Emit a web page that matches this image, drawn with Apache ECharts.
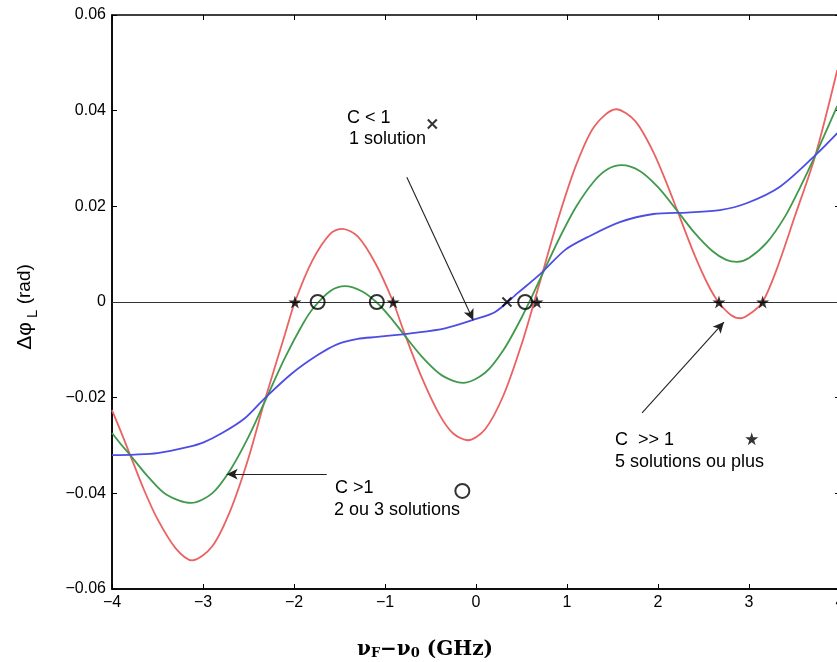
<!DOCTYPE html>
<html><head><meta charset="utf-8">
<script src="https://cdn.jsdelivr.net/npm/echarts@6/dist/echarts.min.js"></script>
<style>html,body{margin:0;padding:0;background:#fff}#c{width:837px;height:662px}</style>
</head><body><div id="c"></div>
<script>
// ---- data ----
const xTicks = [-4, -3, -2, -1, 0, 1, 2, 3, 4];
const yTicks = [-0.06, -0.04, -0.02, 0, 0.02, 0.04, 0.06];

const redPts = [[-4.0,-0.0226],[-3.9,-0.0272],[-3.8,-0.0320],[-3.65,-0.0392],[-3.5,-0.0454],[-3.3,-0.0515],[-3.12,-0.0540],[-2.9,-0.0511],[-2.7,-0.0436],[-2.5,-0.0326],[-2.32,-0.0205],[-2.1,-0.0068],[-1.99,0.0],[-1.8,0.0086],[-1.6,0.0143],[-1.47,0.0153],[-1.3,0.0137],[-1.1,0.0079],[-0.91,0.0],[-0.8,-0.0058],[-0.6,-0.0156],[-0.4,-0.0236],[-0.25,-0.0275],[-0.09,-0.0289],[0.1,-0.0266],[0.3,-0.0196],[0.5,-0.0089],[0.68,0.0027],[0.9,0.0172],[1.1,0.0286],[1.3,0.0367],[1.54,0.0403],[1.75,0.0378],[1.95,0.0313],[2.1,0.0246],[2.21,0.0192],[2.4,0.0099],[2.55,0.0036],[2.66,0.0001],[2.8,-0.0027],[2.91,-0.0034],[3.03,-0.0022],[3.15,0.0],[3.3,0.0066],[3.5,0.0177],[3.73,0.0307],[3.97,0.0485]];

const greenPts = [[-4.0,-0.0274],[-3.9,-0.0298],[-3.8,-0.0320],[-3.6,-0.0366],[-3.4,-0.0403],[-3.13,-0.0420],[-2.9,-0.0400],[-2.7,-0.0351],[-2.5,-0.0282],[-2.32,-0.0208],[-2.1,-0.0117],[-1.9,-0.0045],[-1.78,-0.0011],[-1.6,0.0023],[-1.44,0.0033],[-1.25,0.0022],[-1.09,-0.0001],[-0.95,-0.0030],[-0.8,-0.0066],[-0.6,-0.0113],[-0.4,-0.0150],[-0.25,-0.0165],[-0.14,-0.0169],[0.1,-0.0148],[0.3,-0.0101],[0.5,-0.0033],[0.7,0.0046],[0.9,0.0127],[1.1,0.0199],[1.3,0.0253],[1.45,0.0278],[1.6,0.0286],[1.8,0.0274],[2.0,0.0240],[2.21,0.0191],[2.4,0.0145],[2.6,0.0106],[2.75,0.0088],[2.87,0.0084],[3.0,0.0092],[3.2,0.0125],[3.4,0.0180],[3.55,0.0235],[3.73,0.0307],[3.97,0.0410]];

const bluePts = [[-4.0,-0.0320],[-3.75,-0.0319],[-3.5,-0.0316],[-3.16,-0.0303],[-3.0,-0.0294],[-2.79,-0.0274],[-2.54,-0.0243],[-2.32,-0.0201],[-2.02,-0.0149],[-1.74,-0.0111],[-1.52,-0.0088],[-1.3,-0.0077],[-1.08,-0.0073],[-0.7,-0.0065],[-0.34,-0.0055],[-0.01,-0.0036],[0.21,-0.0021],[0.46,0.0019],[0.72,0.0061],[0.98,0.0109],[1.22,0.0135],[1.58,0.0167],[1.95,0.0184],[2.32,0.0187],[2.68,0.0192],[2.98,0.0207],[3.34,0.0241],[3.73,0.0307],[3.97,0.0353]];

const starPts = [[-1.99,0],[-0.91,0],[0.67,0],[2.67,0],[3.15,0],[3.03,-0.0286]];
const circlePts = [[-1.74,0],[-1.09,0],[0.54,0],[-0.15,-0.0395]];
const crossPts = [[0.34,0],[-0.48,0.0372]];

const arrowSegs = [
  [[-0.76, 0.0261], [-0.03, -0.0038]],
  [[-1.64, -0.0360], [-2.74, -0.0360]],
  [[1.825, -0.0232], [2.725, -0.0042]]
];

const notes = [
  {text: 'C < 1', x: 347, y: 118},
  {text: '1 solution', x: 349, y: 139},
  {text: 'C >1', x: 335, y: 488},
  {text: '2 ou 3 solutions', x: 334, y: 510},
  {text: 'C  >> 1', x: 615, y: 440},
  {text: '5 solutions ou plus', x: 615, y: 462}
];

// ---- chart ----
const chart = echarts.init(document.getElementById('c'), null, {renderer: 'canvas'});
const minus = s => String(s).replace('-', '\u2212');
const yFmt = v => (Math.abs(v) < 1e-9 ? '0' : minus(v.toFixed(2)));
const tickFont = {fontFamily: 'Liberation Sans', fontSize: 16, color: '#000'};
const starPath = 'path://M50,0 L61,35 L98,35 L68,57 L79,91 L50,70 L21,91 L32,57 L2,35 L39,35 Z';

const option = {
  animation: false,
  backgroundColor: '#fff',
  grid: {left: 112, right: -3, top: 15, bottom: 73, show: true, borderColor: '#000', borderWidth: 1.5,
         backgroundColor: 'transparent', containLabel: false, outerBoundsMode: 'none'},
  xAxis: [
    {type: 'value', min: xTicks[0], max: xTicks[xTicks.length-1], interval: 1,
     axisLine: {onZero: false, lineStyle: {color: '#000', width: 1.5}},
     axisTick: {inside: true, length: 5, lineStyle: {color: '#000', width: 1}},
     axisLabel: Object.assign({margin: 6, formatter: v => minus(v)}, tickFont),
     splitLine: {show: false}},
    {type: 'value', position: 'top', min: xTicks[0], max: xTicks[xTicks.length-1], interval: 1,
     axisLine: {show: false, onZero: false}, axisTick: {inside: true, length: 5, lineStyle: {color: '#000'}},
     axisLabel: {show: false}, splitLine: {show: false}}
  ],
  yAxis: [
    {type: 'value', min: yTicks[0], max: yTicks[yTicks.length-1], interval: 0.02,
     axisLine: {show: true, onZero: false, lineStyle: {color: '#000', width: 1.5}},
     axisTick: {show: true, inside: true, length: 5, lineStyle: {color: '#000', width: 1}},
     axisLabel: Object.assign({margin: 6, formatter: yFmt}, tickFont),
     splitLine: {show: false}},
    {type: 'value', position: 'right', min: yTicks[0], max: yTicks[yTicks.length-1], interval: 0.02,
     axisLine: {show: false, onZero: false}, axisTick: {show: true, inside: true, length: 5, lineStyle: {color: '#000'}},
     axisLabel: {show: false}, splitLine: {show: false}}
  ],
  series: [
    {type: 'line', data: [], silent: true,
     markLine: {silent: true, symbol: 'none', label: {show: false},
       lineStyle: {color: '#333', width: 1, type: 'solid'},
       data: [{yAxis: 0}]}},
    {type: 'line', data: redPts, smooth: 0.3, showSymbol: false, lineStyle: {color: '#ea6262', width: 1.8}, z: 3},
    {type: 'line', data: greenPts, smooth: 0.3, showSymbol: false, lineStyle: {color: '#3f9a4c', width: 1.8}, z: 3},
    {type: 'line', data: bluePts, smooth: 0.3, showSymbol: false, lineStyle: {color: '#4d4de4', width: 1.8}, z: 3},
    {type: 'line', data: [], silent: true,
     markLine: {silent: true, symbol: ['none', 'arrow'], symbolSize: [8, 11], label: {show: false},
       lineStyle: {color: '#222', width: 1.1, type: 'solid'},
       data: arrowSegs.map(s => [{coord: s[0]}, {coord: s[1]}])}, z: 5},
    {type: 'scatter', data: starPts, symbol: starPath, symbolSize: 13, itemStyle: {color: '#000'}, z: 6},
    {type: 'scatter', data: circlePts, symbol: 'circle', symbolSize: 14,
     itemStyle: {color: 'rgba(0,0,0,0)', borderColor: '#000', borderWidth: 2}, z: 6},
    {type: 'scatter', data: crossPts, symbol: 'path://M0,0L10,10M10,0L0,10', symbolSize: 9,
     itemStyle: {color: 'rgba(0,0,0,0)', borderColor: '#000', borderWidth: 2}, z: 6}
  ],
  graphic: [
    ...notes.map(n => ({type: 'text', x: n.x, y: n.y, z: 10,
      style: {text: n.text, font: '18px "Liberation Sans"', fill: '#000', verticalAlign: 'middle'}})),
    {type: 'text', x: 357, y: 648, z: 10,
     style: {text: '{n|\u03BD}{s|F}{n|\u2212\u03BD}{s|0}{n| (GHz)}', verticalAlign: 'middle', fill: '#000',
       rich: {n: {fontFamily: 'DejaVu Serif', fontWeight: 'bold', fontSize: 20, fill: '#000', verticalAlign: 'bottom', lineHeight: 24},
              s: {fontFamily: 'DejaVu Serif', fontWeight: 'bold', fontSize: 13, fill: '#000', verticalAlign: 'bottom', lineHeight: 21}}}},
    {type: 'text', x: 25, y: 307, rotation: Math.PI / 2, z: 10,
     style: {text: '{a|\u0394\u03C6}{s| L}{b| (rad)}', align: 'center', verticalAlign: 'middle', fill: '#000',
       rich: {a: {fontFamily: 'Liberation Sans', fontSize: 21, fill: '#000', verticalAlign: 'middle', lineHeight: 30},
              s: {fontFamily: 'Liberation Sans', fontSize: 15, fill: '#000', verticalAlign: 'bottom', lineHeight: 30},
              b: {fontFamily: 'Liberation Sans', fontSize: 19, fill: '#000', verticalAlign: 'middle', lineHeight: 30}}}}
  ]
};
chart.setOption(option);
</script>
</body></html>
